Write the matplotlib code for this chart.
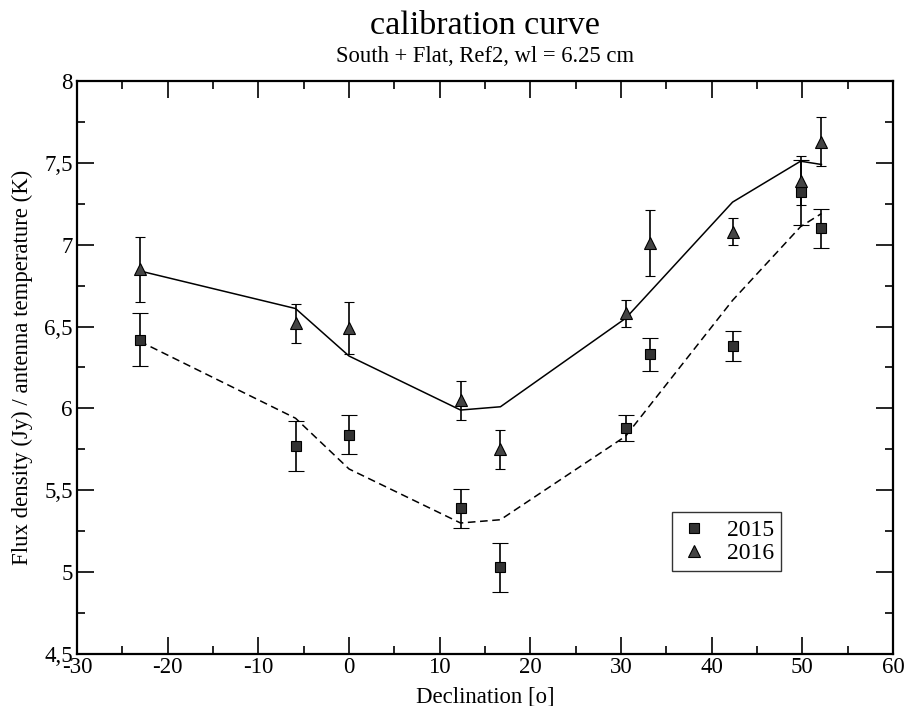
import matplotlib
matplotlib.use("Agg")
import matplotlib.pyplot as plt
from matplotlib.ticker import MultipleLocator, FuncFormatter

plt.rcParams['font.family'] = ['Liberation Serif', 'DejaVu Serif']

# declination of each source (degrees)
decl = [-23.1, -5.9, 0.0, 12.3, 16.7, 30.5, 33.2, 42.3, 49.8, 52.1]

# 2015 measurements (squares)
flux_2015 = [6.42, 5.77, 5.84, 5.39, 5.03, 5.88, 6.33, 6.38, 7.32, 7.10]
err_2015 = [0.16, 0.15, 0.12, 0.12, 0.15, 0.08, 0.10, 0.09, 0.20, 0.12]

# 2016 measurements (triangles)
flux_2016 = [6.85, 6.52, 6.49, 6.05, 5.75, 6.58, 7.01, 7.08, 7.39, 7.63]
err_2016 = [0.20, 0.12, 0.16, 0.12, 0.12, 0.08, 0.20, 0.08, 0.15, 0.15]

# model curves
curve_decl = [-23.1, -5.9, 0.0, 12.3, 16.7, 30.5, 42.3, 49.8, 52.1]
curve_2015 = [6.41, 5.94, 5.63, 5.30, 5.32, 5.83, 6.66, 7.11, 7.19]
curve_2016 = [6.84, 6.61, 6.32, 5.99, 6.01, 6.55, 7.26, 7.51, 7.49]

fig = plt.figure(figsize=(9.05, 7.06), dpi=100)
ax = fig.add_axes([0.0851, 0.0737, 0.9017, 0.8116])

ax.plot(curve_decl, curve_2016, color='black', lw=1.1)
ax.plot(curve_decl, curve_2015, color='black', lw=1.1, ls=(0, (5, 3)))

ax.errorbar(decl, flux_2015, yerr=err_2015, fmt='s', ms=6.5, mfc='#333333', mec='black',
            mew=0.8, ecolor='black', elinewidth=1.2, capsize=5.8, capthick=1.2, label='2015')
ax.errorbar(decl, flux_2016, yerr=err_2016, fmt='^', ms=9, mfc='#444444', mec='black',
            mew=0.8, ecolor='black', elinewidth=1.2, capsize=3.3, capthick=1.2, label='2016')

ax.set_xlim(-30, 60)
ax.set_ylim(4.5, 8)
ax.xaxis.set_major_locator(MultipleLocator(10))
ax.xaxis.set_minor_locator(MultipleLocator(5))
ax.yaxis.set_major_locator(MultipleLocator(0.5))
ax.yaxis.set_minor_locator(MultipleLocator(0.25))
comma = FuncFormatter(lambda v, p: ('%g' % v).replace('.', ','))
ax.xaxis.set_major_formatter(comma)
ax.yaxis.set_major_formatter(comma)
ax.tick_params(which='both', direction='in', top=True, right=True, labelsize=16.5, width=1.2)
ax.tick_params(which='major', length=12)
ax.tick_params(axis='x', which='major', pad=2)
ax.tick_params(axis='y', which='major', pad=3)
ax.tick_params(which='minor', length=6)
for s in ax.spines.values():
    s.set_linewidth(1.6)

ax.set_xlabel('Declination [o]', fontsize=16.4, va='top')
ax.xaxis.set_label_coords(0.5, -0.056)
ax.set_ylabel('Flux density (Jy) / antenna temperature (K)', fontsize=16.4)
ax.yaxis.set_label_coords(-0.054, 0.5)

fig.text(0.536, 0.952, 'calibration curve', ha='center', va='baseline', fontsize=24.6)
fig.text(0.536, 0.912, 'South + Flat, Ref2, wl = 6.25 cm', ha='center', va='baseline', fontsize=16.3)

h, l = ax.get_legend_handles_labels()
leg = ax.legend([x[0] for x in h], l, loc='lower left', bbox_to_anchor=(0.729, 0.145),
                borderaxespad=0, fontsize=17, frameon=True, fancybox=False,
                edgecolor='black', handletextpad=0.72, borderpad=0.3, labelspacing=0.05,
                handlelength=1.3)
leg.get_frame().set_linewidth(1.0)

fig.savefig('out.png', dpi=100)
